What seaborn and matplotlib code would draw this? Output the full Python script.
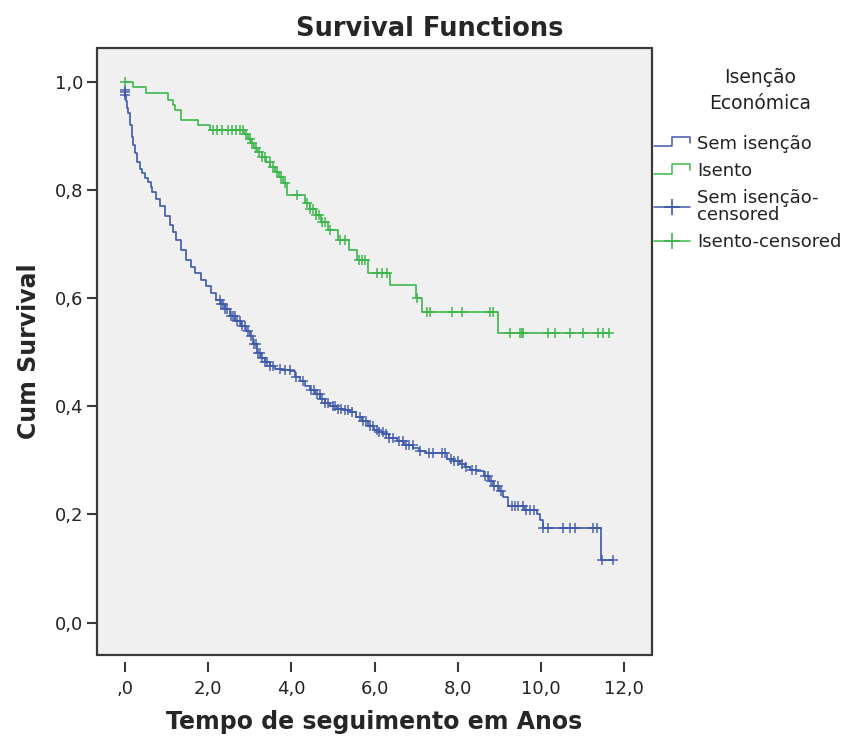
import numpy as np
import matplotlib.pyplot as plt
import seaborn as sns
from matplotlib.lines import Line2D
from matplotlib.patches import Rectangle
from matplotlib.legend_handler import HandlerBase

sns.set_style('white', {'axes.facecolor': '#f0f0f0'})
plt.rcParams['font.family'] = ['DejaVu Sans']

# Sem isenção: step times (anos) and cumulative survival after each step
sem_t = [0.00, 0.005, 0.01, 0.03, 0.06, 0.08, 0.12, 0.16, 0.20, 0.24,
         0.30, 0.36, 0.42, 0.48, 0.56, 0.62, 0.66, 0.74, 0.84, 0.96,
         1.08, 1.16, 1.24, 1.36, 1.48, 1.58, 1.68, 1.82, 1.96, 2.08,
         2.20, 2.30, 2.40, 2.52, 2.65, 2.78, 2.90, 3.01, 3.08, 3.17,
         3.26, 3.36, 3.49, 3.62, 3.78, 3.98, 4.10, 4.22, 4.34, 4.46,
         4.58, 4.70, 4.82, 4.94, 5.10, 5.26, 5.42, 5.56, 5.70, 5.84,
         5.98, 6.10, 6.21, 6.36, 6.53, 6.72, 6.93, 7.08, 7.24, 7.74,
         7.90, 8.06, 8.18, 8.30, 8.46, 8.62, 8.75, 8.86, 9.00, 9.10,
         9.20, 9.60, 9.90, 9.98, 10.04, 11.44]
sem_s = [0.986, 0.981, 0.976, 0.965, 0.952, 0.942, 0.920, 0.899, 0.883, 0.868,
         0.853, 0.840, 0.831, 0.822, 0.815, 0.806, 0.797, 0.784, 0.770, 0.753,
         0.736, 0.722, 0.708, 0.690, 0.671, 0.658, 0.646, 0.634, 0.622, 0.609,
         0.597, 0.589, 0.580, 0.568, 0.558, 0.549, 0.540, 0.530, 0.515, 0.499,
         0.490, 0.482, 0.474, 0.470, 0.468, 0.465, 0.455, 0.446, 0.438, 0.431,
         0.422, 0.413, 0.406, 0.400, 0.396, 0.393, 0.389, 0.381, 0.372, 0.364,
         0.357, 0.352, 0.348, 0.341, 0.335, 0.329, 0.323, 0.318, 0.314, 0.303,
         0.298, 0.294, 0.288, 0.283, 0.280, 0.271, 0.261, 0.252, 0.244, 0.233,
         0.215, 0.209, 0.200, 0.190, 0.175, 0.116]
sem_cens = [0.0, 0.005, 0.01,
            2.28, 2.32, 2.36, 2.40, 2.45, 2.55, 2.60, 2.64, 2.70, 2.76, 2.82,
            2.88, 2.95, 3.02, 3.10, 3.14, 3.20, 3.24, 3.30, 3.36, 3.42, 3.50,
            3.56, 3.73, 3.86, 3.97, 4.12, 4.28, 4.48, 4.55, 4.62, 4.68, 4.75,
            4.82, 4.88, 5.00, 5.06, 5.12, 5.20, 5.28, 5.36, 5.46, 5.65, 5.72,
            5.80, 5.90, 5.96, 6.05, 6.12, 6.20, 6.28, 6.36, 6.45, 6.60, 6.68,
            6.76, 6.84, 6.92, 7.10, 7.30, 7.40, 7.62, 7.70, 7.84, 7.92, 8.00,
            8.10, 8.20, 8.34, 8.44, 8.66, 8.72, 8.80, 8.88, 8.96, 9.04, 9.30,
            9.38, 9.46, 9.56, 9.64, 9.74, 9.84, 10.06, 10.18, 10.54, 10.69,
            10.82, 11.26, 11.36, 11.46, 11.74]

# Isento
ise_t = [0.00, 0.20, 0.50, 1.04, 1.15, 1.20, 1.35, 1.76, 2.04, 2.86,
         2.95, 3.03, 3.10, 3.18, 3.30, 3.40, 3.50, 3.60, 3.70, 3.80,
         3.90, 4.33, 4.45, 4.60, 4.72, 4.88, 5.12, 5.38, 5.58, 5.85,
         6.37, 7.00, 7.13, 8.97]
ise_s = [1.000, 0.990, 0.979, 0.967, 0.957, 0.948, 0.930, 0.920, 0.911, 0.903,
         0.895, 0.887, 0.878, 0.870, 0.861, 0.852, 0.843, 0.834, 0.825, 0.813,
         0.791, 0.776, 0.765, 0.754, 0.741, 0.726, 0.708, 0.689, 0.671, 0.647,
         0.624, 0.601, 0.575, 0.535]
ise_cens = [0.0, 2.12, 2.21, 2.33, 2.47, 2.57, 2.67, 2.77, 2.84, 2.92, 3.00,
            3.06, 3.14, 3.22, 3.30, 3.38, 3.48, 3.56, 3.66, 3.76, 3.86, 4.14,
            4.38, 4.45, 4.52, 4.60, 4.66, 4.74, 4.82, 4.92, 5.16, 5.30, 5.62,
            5.70, 5.78, 6.07, 6.19, 6.31, 7.03, 7.26, 7.34, 7.86, 8.10, 8.78,
            8.85, 9.26, 9.50, 9.55, 9.58, 10.17, 10.34, 10.70, 11.02, 11.38,
            11.50, 11.64]

blue = '#3e58ac'
green = '#3cb64b'


def surv_at(times, surv, c):
    idx = np.searchsorted(times, c, side='right') - 1
    return np.asarray(surv)[idx]


class StepHandler(HandlerBase):
    def create_artists(self, legend, orig_handle, xdescent, ydescent,
                       width, height, fontsize, trans):
        x0, y0 = -xdescent, -ydescent
        xs = [x0, x0 + 0.5 * width, x0 + 0.5 * width, x0 + width, x0 + width]
        ys = [y0 + 0.2 * height, y0 + 0.2 * height, y0 + 0.95 * height,
              y0 + 0.95 * height, y0 + 0.45 * height]
        ln = Line2D(xs, ys, color=orig_handle.get_color(), lw=1.1, transform=trans)
        return [ln]


fig = plt.figure(figsize=(8.48, 7.40), dpi=100)
ax = fig.add_axes([97 / 848, 1 - 655 / 740, 555 / 848, 607 / 740])

for t, s, cens, col, a in [(sem_t, sem_s, sem_cens, blue, 0.85),
                           (ise_t, ise_s, ise_cens, green, 0.9)]:
    tt = list(t) + [cens[-1]]
    ss = list(s) + [s[-1]]
    sns.lineplot(x=tt, y=ss, drawstyle='steps-post', estimator=None, sort=False,
                 color=col, lw=1.2, ax=ax)
    sns.scatterplot(x=cens, y=surv_at(t, s, cens), marker='+', s=60,
                    linewidth=1.2, color=col, alpha=a, ax=ax, zorder=3)

ax.set_xlim(-0.67, 12.67)
ax.set_ylim(-0.06, 1.063)

xt = [0, 2, 4, 6, 8, 10, 12]
ax.set_xticks(xt, [',0', '2,0', '4,0', '6,0', '8,0', '10,0', '12,0'])
yt = [0.0, 0.2, 0.4, 0.6, 0.8, 1.0]
ax.set_yticks(yt, ['0,0', '0,2', '0,4', '0,6', '0,8', '1,0'])

for sp in ax.spines.values():
    sp.set_visible(False)
ax.spines['bottom'].set_position(('outward', 5))
ax.add_patch(Rectangle((0, 0), 1, 1, transform=ax.transAxes, fill=False,
                       lw=1.6, edgecolor='#3a3a3a', clip_on=False, zorder=5))
ax.tick_params(axis='both', direction='out', length=7, width=1.5,
               color='#3a3a3a', labelsize=13, labelcolor='#222222', pad=3,
               bottom=True, left=True)
ax.tick_params(axis='x', pad=6)

ax.set_xlabel('Tempo de seguimento em Anos', fontsize=17, fontweight='bold')
ax.set_ylabel('Cum Survival', fontsize=17, fontweight='bold')
ax.xaxis.set_label_coords(0.5, -0.09)
ax.yaxis.set_label_coords(-0.10, 0.5)

fig.text(430 / 848, 1 - 29 / 740, 'Survival Functions', ha='center', va='center',
         fontsize=18.5, fontweight='bold')

# legend title, centred above the entries
fig.text(760 / 848, 1 - 68 / 740, 'Isenção\nEconómica', ha='center', va='top',
         multialignment='center', fontsize=13.5, linespacing=1.45, color='#222222')

h1 = Line2D([], [], color=blue)
h2 = Line2D([], [], color=green)
h3 = Line2D([], [], color=blue, marker='+', markersize=11, mew=1.2, lw=1.1)
h4 = Line2D([], [], color=green, marker='+', markersize=11, mew=1.2, lw=1.1)
leg = fig.legend([h1, h2, h3, h4],
                 ['Sem isenção', 'Isento', 'Sem isenção-\ncensored', 'Isento-censored'],
                 loc='upper left', bbox_to_anchor=(654 / 848, 1 - 135 / 740),
                 frameon=False, fontsize=13, handlelength=2.0, handletextpad=0.4,
                 labelspacing=0.5, borderaxespad=0, borderpad=0,
                 handler_map={h1: StepHandler(), h2: StepHandler()})
for txt in leg.get_texts():
    txt.set_linespacing(0.95)
    txt.set_color('#222222')

fig.savefig('out.png', dpi=100)
